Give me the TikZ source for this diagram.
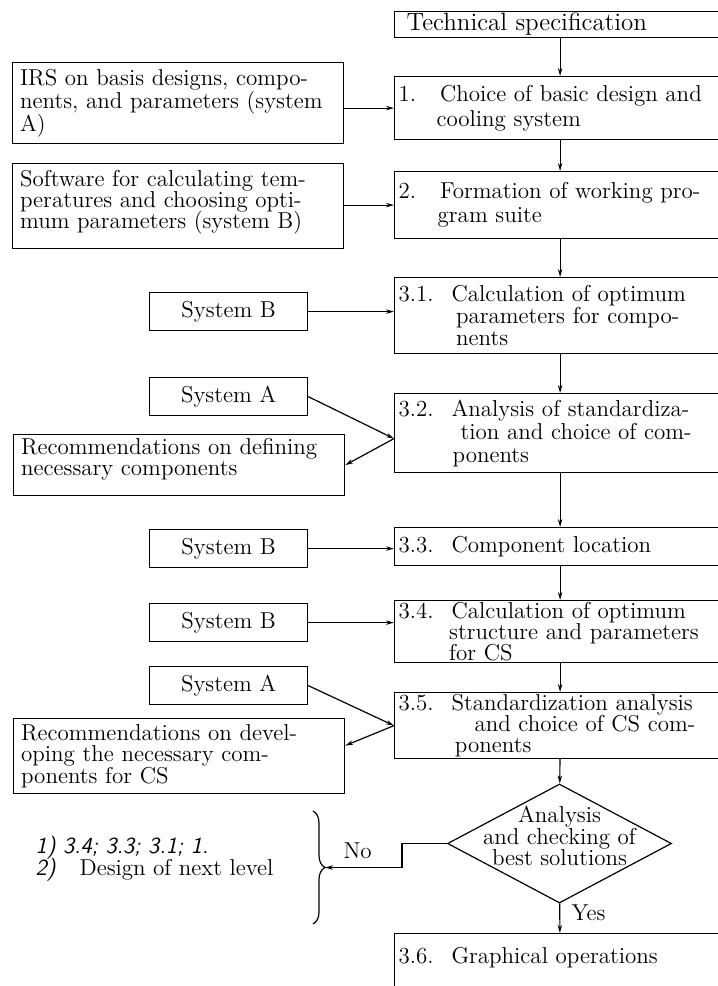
\documentclass[tikz,border=0pt]{standalone}
\usepackage{fontspec}
\usetikzlibrary{shapes.geometric,arrows.meta,decorations.pathreplacing}
\newcommand{\boxfont}[1]{\fontsize{11.5}{#1}\selectfont\lineskiplimit=-\maxdimen}
\newcommand{\steplbl}[2][2.3em]{\makebox[#1][l]{#2}}
\newcommand{\stepind}[1][2.3em]{\hspace*{#1}}
\tikzset{
  stepbox/.style={draw, anchor=north west, align=left, text width=161.5pt, inner xsep=2pt, inner ysep=0pt},
  infobox/.style={draw, anchor=north west, align=left, text width=158pt, inner xsep=3.75pt, inner ysep=0pt},
  sysbox/.style={draw, anchor=north west, minimum width=79pt, minimum height=19pt, inner sep=0pt, font=\boxfont{12}},
  decision/.style={draw, diamond, minimum width=112pt, minimum height=59.5pt, inner sep=0pt},
  link/.style={-{Stealth[length=4pt,width=2.2pt]}},
}
\begin{document}
\begin{tikzpicture}[x=0.5pt, y=-0.5pt, line width=0.6pt]
	\useasboundingbox (0,0) rectangle (718,986);
	\clip (0,0) rectangle (718,986);
	\node[stepbox, minimum height=13pt, font=\boxfont{12}\fontsize{12.5}{12}\selectfont] (tech) at (394,11) {\hspace*{4pt}Technical specification};
	\node[stepbox, minimum height=31.5pt, font=\boxfont{12.5}] (s1) at (394,76) {\steplbl[1.8em]{1.}Choice of basic design and\\\stepind[1.65em]cooling system};
	\node[stepbox, minimum height=33.5pt, font=\boxfont{12}] (s2) at (394,171) {\steplbl[1.8em]{2.}Formation of working pro-\\\stepind[1.7em]gram suite};
	\node[stepbox, minimum height=38pt, font=\boxfont{10.8}] (s31) at (394,277) {\steplbl{3.1.}Calculation of optimum\\\stepind[2.5em]parameters for compo-\\\stepind[2.5em]nents};
	\node[stepbox, minimum height=39.5pt, font=\boxfont{11.5}] (s32) at (394,393) {\steplbl{3.2.}Analysis of standardiza-\\\stepind[2.7em]tion and choice of com-\\\stepind[2.35em]ponents};
	\node[stepbox, minimum height=19pt, font=\boxfont{12}] (s33) at (394,527) {\steplbl{3.3.}Component location};
	\node[stepbox, minimum height=31pt, font=\boxfont{10.6}] (s34) at (394,600) {\steplbl{3.4.}Calculation of optimum\\\stepind[2.2em]structure and parameters\\\stepind[2.2em]for CS};
	\node[stepbox, minimum height=33pt, font=\boxfont{10.6}] (s35) at (394,692) {\steplbl{3.5.}Standardization analysis\\\stepind[3.3em]and choice of CS com-\\\stepind[2.45em]ponents};
	\node[decision] (dec) at (559.5,843.5) {};
	\node[align=center, inner sep=0pt, font=\boxfont{10.6}] (dectext) at (559.5,836) {Analysis\\and checking of\\best solutions};
	\node[stepbox, inner ysep=7pt, text depth=20pt, font=\boxfont{12}] (s36) at (394,933) {\steplbl{3.6.}Graphical operations};

	\node[infobox, minimum height=40.5pt, font=\boxfont{11.5}] (irs) at (12,62) {IRS on basis designs, compo-\\nents, and parameters (system\\A)};
	\node[infobox, minimum height=42.5pt, font=\boxfont{10.6}] (soft) at (12,163) {Software for calculating tem-\\peratures and choosing opti-\\mum parameters (system B)\\[-4pt]\mbox{}};
	\node[infobox, minimum height=30.5pt, font=\boxfont{10.6}] (rec1) at (13,434) {Recommendations on defining\\necessary components\\[-2pt]\mbox{}};
	\node[infobox, minimum height=37.5pt, font=\boxfont{10.6}] (rec2) at (13,718) {Recommendations on devel-\\oping the necessary com-\\ponents for CS};
	\node[sysbox] (sb1) at (149,292) {System B};
	\node[sysbox] (sa1) at (149,377) {System A};
	\node[sysbox] (sb2) at (149,529) {System B};
	\node[sysbox] (sb3) at (149,603) {System B};
	\node[sysbox] (sa2) at (149,666) {System A};

	\node[anchor=west, inner sep=0pt, font=\boxfont{12}\sffamily\itshape] (note1) at (35,848) {1) 3.4; 3.3; 3.1; 1.};
	\node[anchor=west, inner sep=0pt, font=\boxfont{12}] (note2) at (35,870) {\makebox[22pt][l]{\sffamily\itshape 2)}Design of next level};
	\draw[decorate, decoration={brace, amplitude=6pt}] (313,811) -- (313,924);
	\coordinate (bt) at (325,867.5);
	\node[anchor=west, inner sep=0pt, font=\boxfont{12}] (no) at (343,851) {No};
	\node[anchor=west, inner sep=0pt, font=\boxfont{12}] (yes) at (571,913) {Yes};

	\draw[link] (tech) -- (s1);
	\draw[link] (s1) -- (s2);
	\draw[link] (s2) -- (s31);
	\draw[link] (s31) -- (s32);
	\draw[link] (s32) -- (s33);
	\draw[link] (s33) -- (s34);
	\draw[link] (s34) -- (s35);
	\draw[link] (s35) -- (dec);
	\draw[link] (dec) -- (s36);
	\draw[link] (irs.east |- s1.west) -- (s1.west);
	\draw[link] (soft.east |- s2.west) -- (s2.west);
	\draw[link] (sb1.east) -- (sb1.east -| s31.west);
	\draw[link] (sa1.east) -- ([yshift=-2.75pt]s32.west);
	\draw[link] ([yshift=-2.75pt]s32.west) -- (rec1.east);
	\draw[link] (sb2.east) -- (sb2.east -| s33.west);
	\draw[link] (sb3.east) -- (sb3.east -| s34.west);
	\draw[link] (sa2.east) -- (s35.west);
	\draw[link] (s35.west) -- ([yshift=5.25pt]rec2.east);
	\draw[link] (dec.west) -- ++(-45,0) |- (bt);
\end{tikzpicture}
\end{document}
